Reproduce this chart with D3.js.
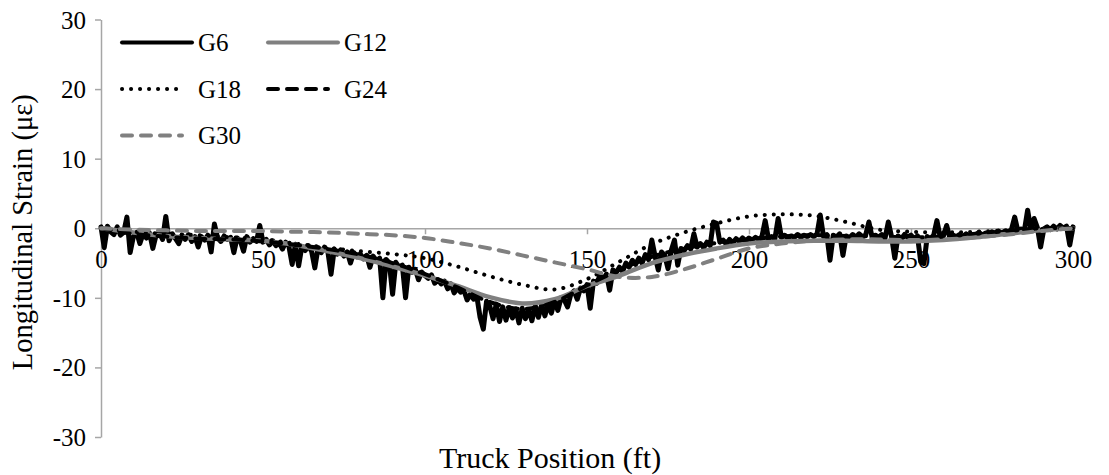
<!DOCTYPE html>
<html>
<head>
<meta charset="utf-8">
<script src="https://cdn.jsdelivr.net/npm/d3@7"></script>
<style>
  html, body { margin: 0; padding: 0; background: #fff; }
  svg { display: block; }
  text { font-family: "Liberation Serif", "Times New Roman", "DejaVu Serif", serif; fill: #000; }
</style>
</head>
<body>
<svg id="chart" width="1109" height="475"></svg>
<script>
// ---------------- data ----------------
const xTicks = [0, 50, 100, 150, 200, 250, 300];
const yTicks = [-30, -20, -10, 0, 10, 20, 30];

// dense positions for the noisy G6 record (ft)
const g6Pos = d3.range(0, 301, 1);
const g6 = [
  0.2, -2.8, 0.3, -0.5, -0.9, 0.2, -1.0, -0.6, 1.6, -3.5,
  -1.2, -0.6, -2.2, -0.8, -1.4, -0.7, -2.9, -1.0, -0.6, -1.6,
  1.7, -1.8, -0.8, -1.5, -2.2, -1.0, -1.6, -0.9, -1.9, -1.2,
  -2.7, -1.2, -1.7, -1.0, -3.4, 0.6, -1.4, -1.9, -1.1, -1.6,
  -1.3, -3.5, -1.4, -1.8, -3.3, -1.2, -2.0, -1.5, -1.9, 0.4,
  -2.0, -1.6, -2.4, -1.8, -2.5, -2.1, -3.0, -2.0, -2.6, -5.2,
  -2.3, -5.4, -2.6, -3.2, -2.5, -3.3, -5.7, -2.8, -3.5, -2.7,
  -3.3, -6.6, -3.0, -3.7, -3.1, -4.0, -3.4, -5.0, -3.5, -4.1,
  -3.7, -4.4, -3.9, -5.6, -4.0, -4.7, -4.3, -10.0, -4.5, -5.0,
  -9.5, -4.9, -5.6, -5.3, -10.0, -5.6, -6.3, -5.9, -7.4, -6.3,
  -6.8, -7.2, -6.7, -7.9, -7.4, -8.0, -7.6, -8.7, -8.0, -9.3,
  -8.6, -9.2, -8.9, -10.3, -9.5, -10.2, -9.8, -12.8, -14.5, -10.5,
  -11.2, -13.0, -10.9, -13.4, -11.3, -13.2, -11.4, -12.9, -11.6, -13.6,
  -11.5, -13.0, -11.7, -13.3, -11.2, -12.8, -11.0, -12.6, -10.9, -12.2,
  -10.4, -11.8, -10.0, -10.3, -11.3, -9.5, -9.0, -10.2, -8.6, -9.0,
  -8.1, -11.5, -7.6, -7.9, -6.8, -7.3, -6.6, -8.9, -6.0, -6.4,
  -5.6, -6.2, -5.0, -5.6, -4.6, -5.2, -4.3, -5.0, -3.8, -4.5,
  -1.7, -4.0, -6.0, -3.4, -3.9, -5.8, -3.2, -1.7, -5.3, -2.9,
  -3.2, -2.5, -3.0, -0.8, -2.7, -2.2, -2.8, -2.0, -2.5, 0.9,
  0.7, -2.0, -1.7, -2.3, -1.6, -2.1, -1.5, -1.9, -1.4, -1.8,
  -1.4, -1.7, -1.3, -1.6, -1.2, 1.1, -1.5, -1.2, -1.5, 1.4,
  -1.3, -1.0, -1.4, -1.1, -1.3, -0.9, -1.3, -1.0, -1.2, -0.9,
  -1.2, -0.8, 1.9, -1.2, -0.9, -4.6, -1.0, -1.3, -0.8, -3.9,
  -1.1, -1.4, -0.9, -1.3, -0.8, -1.2, -1.0, 0.9, -1.3, -1.0,
  -1.3, -0.9, -1.4, 0.9, -1.2, -4.3, -1.1, -1.5, -0.9, -1.3,
  -1.0, -1.5, -1.1, -4.8, -5.1, -1.2, -1.5, -1.0, 1.1, -1.3,
  -1.1, 0.4, -1.4, -1.0, -1.3, -0.9, -1.2, -0.8, -1.2, -0.9,
  -0.9, -0.6, -1.0, -0.7, -0.9, -0.5, -0.8, -0.4, -0.7, -0.4,
  -0.5, -0.2, 1.6, -0.4, -0.1, -0.3, 2.6, -0.2, 1.4, 0.1,
  -2.7, -0.1, 0.2, -0.2, 0.3, -0.1, 0.4, 0.0, 0.3, -2.4,
  0.2
];

// coarse positions for the smooth records (ft)
const smoothPos = [0,10,20,30,40,50,60,70,80,90,100,110,120,130,140,150,160,170,180,190,200,210,220,230,240,250,260,270,280,290,300];
const g12 = [0, -0.6, -1.1, -1.4, -1.6, -1.8, -2.4, -3.3, -4.3, -5.5, -6.8, -8.3, -9.9, -10.8, -10.2, -8.3, -6.8, -5.0, -3.8, -2.9, -2.2, -1.9, -1.8, -1.8, -1.9, -1.9, -1.7, -1.3, -0.8, -0.3, 0];
const g18 = [0, -0.5, -0.8, -1.0, -1.3, -1.6, -2.2, -2.8, -3.3, -3.7, -4.3, -5.5, -6.9, -8.1, -8.8, -7.3, -4.8, -2.3, -0.6, 0.7, 1.7, 2.0, 1.8, 0.9, -0.2, -0.5, -0.6, -0.5, -0.3, -0.1, 0];
const g24 = [0, -0.8, -1.2, -1.5, -1.6, -1.9, -2.4, -3.0, -3.8, -5.0, -6.6, -8.5, -10.6, -11.6, -10.6, -8.2, -6.0, -4.1, -2.9, -2.1, -1.6, -1.2, -1.0, -1.1, -1.2, -1.3, -1.2, -0.8, -0.4, 0, 0];
const g30 = [0, -0.2, -0.3, -0.4, -0.4, -0.4, -0.5, -0.6, -0.8, -1.0, -1.4, -2.1, -2.9, -3.9, -4.9, -5.9, -7.0, -7.0, -5.9, -4.4, -2.9, -2.2, -1.8, -1.6, -1.6, -1.7, -1.6, -1.3, -0.9, -0.4, 0];

const seriesNames = ["G6", "G12", "G18", "G24", "G30"];

// ---------------- drawing ----------------
const FONT = '"Liberation Serif", "Times New Roman", "DejaVu Serif", serif';
const svg = d3.select("#chart");
const x = d3.scaleLinear().domain([0, 300]).range([101, 1073]);
const y = d3.scaleLinear().domain([-30, 30]).range([437, 19.5]);

const axisColor = "#a6a6a6";
const gray = "#808080";

const styles = {
  G6:  { color: "#000", width: 5, dash: null, cap: "round" },
  G12: { color: gray,   width: 4.5, dash: null, cap: "round" },
  G18: { color: "#000", width: 4, dash: "0.1,8.9", cap: "round" },
  G24: { color: "#000", width: 4, dash: "10,9", cap: "round" },
  G30: { color: gray,   width: 4, dash: "10,9", cap: "round" }
};

// axes
const yAxis = d3.axisLeft(y).tickValues(yTicks).tickSize(6).tickSizeOuter(0).tickFormat(d3.format("d"));
const gy = svg.append("g").attr("transform", `translate(${x(0)},0)`).call(yAxis);
gy.attr("font-family", null);
gy.select(".domain").attr("stroke", axisColor).attr("stroke-width", 1.5);
gy.selectAll(".tick line").attr("stroke", axisColor).attr("stroke-width", 1.5);
gy.selectAll(".tick text")
  .attr("x", -15).attr("dy", "0.34em")
  .style("font-family", FONT).style("font-size", "25px").attr("fill", "#000")
  .text(d => d < 0 ? "-" + Math.abs(d) : d);

const xAxis = d3.axisBottom(x).tickValues(xTicks).tickSize(6).tickSizeOuter(0).tickFormat(d3.format("d"));
const gx = svg.append("g").attr("transform", `translate(0,${y(0)})`).call(xAxis);
gx.attr("font-family", null);
gx.select(".domain").attr("stroke", axisColor).attr("stroke-width", 1.5);
gx.selectAll(".tick line").attr("stroke", axisColor).attr("stroke-width", 1.5);
gx.selectAll(".tick text")
  .attr("y", 0).attr("dy", 40)
  .style("font-family", FONT).style("font-size", "25px").attr("fill", "#000");

// series
const lineDense = d3.line().x((d, i) => x(g6Pos[i])).y(d => y(d)).curve(d3.curveLinear);
const lineSmooth = d3.line().x((d, i) => x(smoothPos[i])).y(d => y(d)).curve(d3.curveCatmullRom.alpha(0.5));

const plotG = svg.append("g").attr("fill", "none");
const seriesData = { G6: g6, G12: g12, G18: g18, G24: g24, G30: g30 };
seriesNames.forEach(name => {
  const s = styles[name];
  const gen = name === "G6" ? lineDense : lineSmooth;
  plotG.append("path")
    .attr("d", gen(seriesData[name]))
    .attr("stroke", s.color)
    .attr("stroke-width", s.width)
    .attr("stroke-linecap", s.cap)
    .attr("stroke-linejoin", "round")
    .attr("stroke-dasharray", s.dash);
});

// legend
const legendItems = [
  { name: "G6",  col: 0, row: 0 },
  { name: "G12", col: 1, row: 0 },
  { name: "G18", col: 0, row: 1 },
  { name: "G24", col: 1, row: 1 },
  { name: "G30", col: 0, row: 2 }
];
const legX = [122, 268], legY = [42.5, 89, 135.5];
const leg = svg.append("g");
legendItems.forEach(it => {
  const s = styles[it.name];
  const x0 = legX[it.col], yy = legY[it.row];
  const len = (it.name === "G6" || it.name === "G12") ? 70 : 60;
  leg.append("line")
    .attr("x1", x0).attr("x2", x0 + len).attr("y1", yy).attr("y2", yy)
    .attr("stroke", s.color).attr("stroke-width", 4)
    .attr("stroke-linecap", s.cap).attr("stroke-dasharray", s.dash);
  leg.append("text")
    .attr("x", x0 + 76).attr("y", yy + 8.5)
    .style("font-family", FONT)
    .style("font-size", "25px")
    .text(it.name);
});

// axis titles
svg.append("text")
  .attr("x", 550).attr("y", 468)
  .attr("text-anchor", "middle")
  .style("font-family", FONT)
  .style("font-size", "30px")
  .text("Truck Position (ft)");
svg.append("text")
  .attr("transform", `translate(32,${y(0) + 4}) rotate(-90)`)
  .attr("text-anchor", "middle")
  .style("font-family", FONT)
  .style("font-size", "28.5px")
  .text("Longitudinal Strain (με)");
</script>
</body>
</html>
